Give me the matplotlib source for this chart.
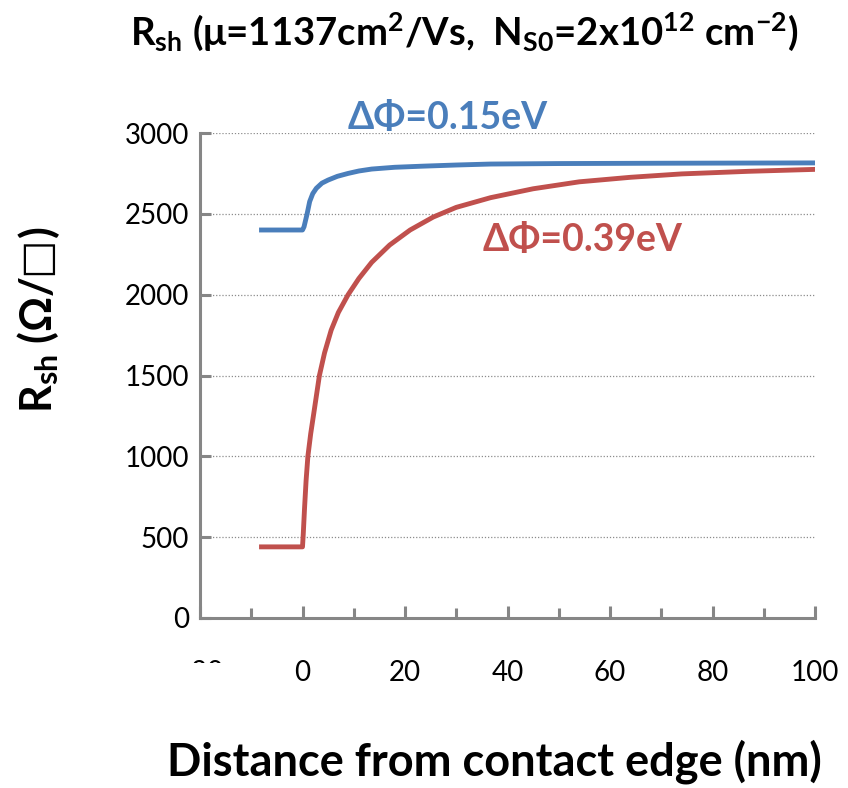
import matplotlib
matplotlib.use('Agg')

import matplotlib.pyplot as plt
from matplotlib.patches import Rectangle

plt.rcParams['font.family'] = ['Lato', 'DejaVu Sans']
plt.rcParams['mathtext.fontset'] = 'custom'
plt.rcParams['mathtext.rm'] = 'Lato'
plt.rcParams['mathtext.bf'] = 'Lato:bold'
plt.rcParams['mathtext.it'] = 'Lato:italic'
plt.rcParams['mathtext.default'] = 'bf'

# values
x_015 = [-8, 0, 0.3, 0.6, 0.9, 1.4, 2, 2.7, 3.8, 5, 6.8, 8.9, 11, 13.5, 18,
         23.6, 30, 36.7, 50, 70, 100]
r_015 = [2400, 2400, 2420, 2460, 2500, 2576, 2625, 2658, 2690, 2709, 2732,
         2750, 2765, 2777, 2788, 2795, 2802, 2808, 2811, 2813, 2815]

x_039 = [-8, 0, 0.15, 0.4, 0.7, 1.05, 1.6, 2.2, 3.3, 4.3, 5.6, 7, 8.9, 11,
         13.5, 17, 21, 25.5, 30, 36.7, 45, 54, 64, 74, 87, 100]
r_039 = [440, 440, 520, 680, 850, 1000, 1140, 1266, 1500, 1640, 1781, 1890,
         2000, 2100, 2200, 2307, 2400, 2480, 2540, 2600, 2655, 2698, 2726,
         2747, 2763, 2775]

x_ticks = [-20, 0, 20, 40, 60, 80, 100]
y_ticks = [0, 500, 1000, 1500, 2000, 2500, 3000]

blue = '#4a7ebb'
red = '#c0504d'
grey = '#868686'

fig = plt.figure(figsize=(8.48, 7.88), dpi=100)
ax = fig.add_axes([200 / 848, 170 / 788, 615 / 848, 485 / 788])

for y in y_ticks[1:]:
    ax.axhline(y, color='#8c8c8c', lw=0.9, ls=(0, (1, 1.5)), zorder=1)

ax.plot(x_015, r_015, color=blue, lw=3.5, solid_joinstyle='round', zorder=3)
ax.plot(x_039, r_039, color=red, lw=3.5, solid_joinstyle='round', zorder=3)

ax.set_xlim(-20, 100)
ax.set_ylim(0, 3000)
ax.set_xticks(x_ticks)
ax.set_xticks(range(-10, 100, 20), minor=True)
ax.set_yticks(y_ticks)

for s in ['top', 'right']:
    ax.spines[s].set_visible(False)
for s in ['left', 'bottom']:
    ax.spines[s].set_color(grey)
    ax.spines[s].set_linewidth(2.2)

ax.tick_params(axis='x', which='major', direction='in', length=9, width=2.2,
               color=grey, pad=30, labelsize=20)
ax.tick_params(axis='x', which='minor', direction='in', length=7, width=2.2,
               color=grey)
ax.tick_params(axis='y', direction='in', length=8, width=2.2, color=grey,
               pad=8, labelsize=20)

# the -20 label is partly hidden in the original
fig.add_artist(Rectangle((170 / 848, (788 - 712) / 788), 70 / 848, 49 / 788,
                         transform=fig.transFigure, facecolor='white',
                         edgecolor='none', zorder=10))

ax.text(8.8, 3092, 'ΔΦ=0.15eV', color=blue, fontsize=27, fontweight='bold',
        va='center', ha='left', clip_on=False)
ax.text(35.1, 2338, 'ΔΦ=0.39eV', color=red, fontsize=27, fontweight='bold',
        va='center', ha='left')

fig.text(464 / 848, 1 - 32 / 788,
         r'R$_{sh}$ (μ=1137cm$^{2}$/Vs,  N$_{S0}$=2x10$^{12}$ cm$^{-2}$)',
         fontsize=27.5, fontweight='bold', ha='center', va='center')
fig.text(494 / 848, 1 - 762 / 788, 'Distance from contact edge (nm)',
         fontsize=32.5, fontweight='bold', ha='center', va='center')

# y label in three pieces so the square can come from DejaVu Sans
renderer = fig.canvas.get_renderer()
ylab_x = 38 / 848
t1 = fig.text(ylab_x, 1 - 413 / 788, r'R$_{sh}$ (Ω/', fontsize=31,
              fontweight='bold', rotation=90, ha='center', va='bottom')
top1 = fig.transFigure.inverted().transform(
    (0, t1.get_window_extent(renderer).y1))[1]
t2 = fig.text(ylab_x + 2 / 848, top1, '☐', fontsize=31, family='DejaVu Sans',
              rotation=90, ha='center', va='bottom')
top2 = fig.transFigure.inverted().transform(
    (0, t2.get_window_extent(renderer).y1))[1]
fig.text(ylab_x, top2, ')', fontsize=31, fontweight='bold', rotation=90,
         ha='center', va='bottom')

fig.savefig('out.png', dpi=100)
